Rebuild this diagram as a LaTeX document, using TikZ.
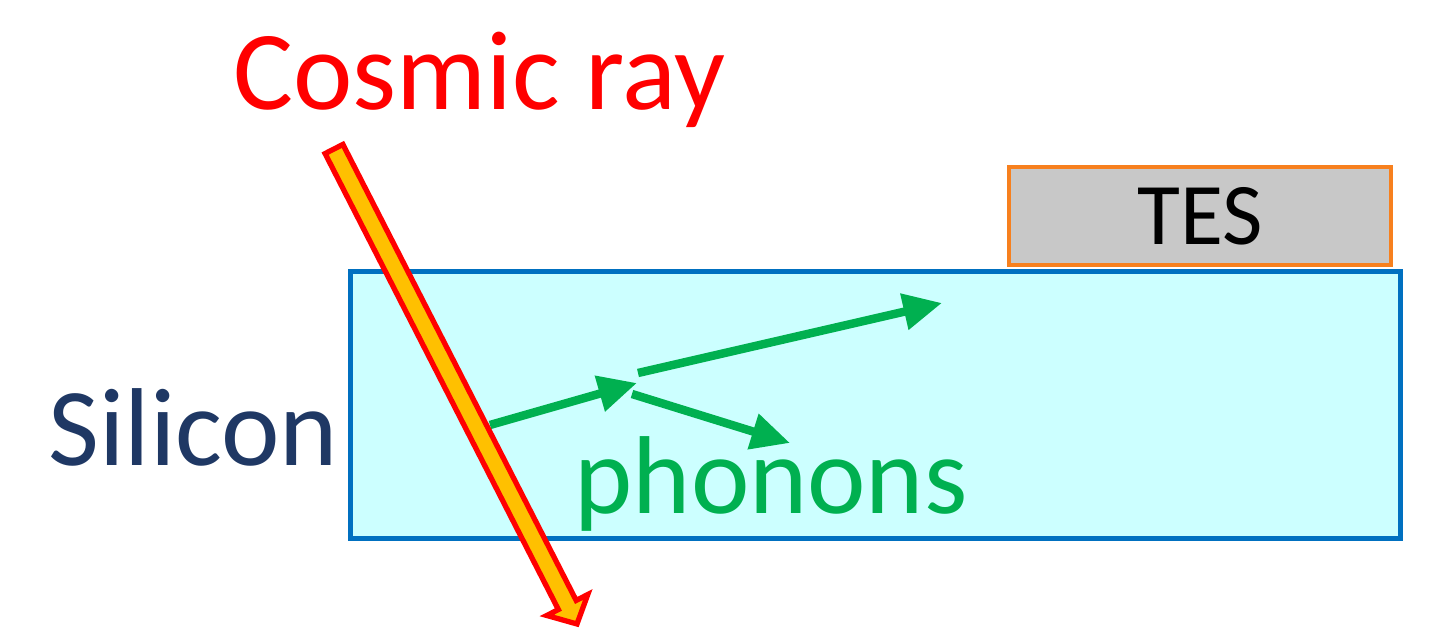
\documentclass[tikz,border=0pt]{standalone}
\usepackage{fontspec}
\setmainfont{Carlito}
\usepackage{tikz}
\usetikzlibrary{arrows.meta, positioning, calc}

\definecolor{siCyan}{HTML}{CCFFFF}
\definecolor{siBlue}{HTML}{0070C0}
\definecolor{siNavy}{HTML}{1F3864}
\definecolor{tesGray}{HTML}{C8C8C8}
\definecolor{tesOrange}{HTML}{F7801E}
\definecolor{phGreen}{HTML}{00B050}
\definecolor{rayYellow}{HTML}{FFC000}

\begin{document}
\begin{tikzpicture}[
            x=0.01cm, y=-0.01cm,
            >={Triangle[length=11pt, width=10pt]},
            big/.style    ={font=\fontsize{31.5}{31.5}\selectfont, inner sep=0pt, anchor=base west},
            sibox/.style  ={draw=siBlue, fill=siCyan, line width=1.2pt},
            tesbox/.style ={draw=tesOrange, fill=tesGray, line width=1.2pt, inner sep=0pt,
                            minimum width=3.82cm, minimum height=0.98cm,
                            font=\fontsize{25}{25}\selectfont},
            phonon/.style ={->, draw=phGreen, line width=2.4pt},
            ray/.style    ={draw=red, fill=rayYellow, line width=1.5pt, line join=miter}
        ]
        \useasboundingbox (0,0) rectangle (1451,631);

        % detector: silicon absorber with the TES on top
        \draw[sibox] (350.5,271.5) rectangle (1400.5,538.5);
        \node[tesbox] (tes) at (1200,216) {TES};

        \node[big, text=siNavy] (silicon) at (48,466) {Silicon};
        \node[big, text=phGreen] (phonons) at (574,514) {phonons};
        \node[big, text=red, font=\fontsize{32}{32}\selectfont] (cosmic) at (233,110) {Cosmic ray};

        \coordinate (hit)        at (490,425);
        \coordinate (kink)       at (637,383);
        \coordinate (up start)   at (638,373);
        \coordinate (up end)     at (942,303);
        \coordinate (down start) at (632,394);
        \coordinate (down end)   at (790,443);
        \draw[phonon] (hit) -- (kink);
        \draw[phonon] (up start) -- (up end);
        \draw[phonon] (down start) -- (down end);

        % block arrow of the cosmic ray, drawn over the phonon start
        \coordinate (ray top)  at (334,149);
        \coordinate (ray tip)  at (577,624);
        \coordinate (ray neck) at ($(ray top)!0.96!(ray tip)$);
        \filldraw[ray] ($(ray top)!0.1cm!90:(ray tip)$) -- ($(ray neck)!0.1cm!90:(ray tip)$)
              -- ($(ray neck)!0.23cm!90:(ray tip)$) -- (ray tip)
              -- ($(ray neck)!0.23cm!-90:(ray tip)$) -- ($(ray neck)!0.1cm!-90:(ray tip)$)
              -- ($(ray top)!0.1cm!-90:(ray tip)$) -- cycle;
    \end{tikzpicture}
\end{document}
